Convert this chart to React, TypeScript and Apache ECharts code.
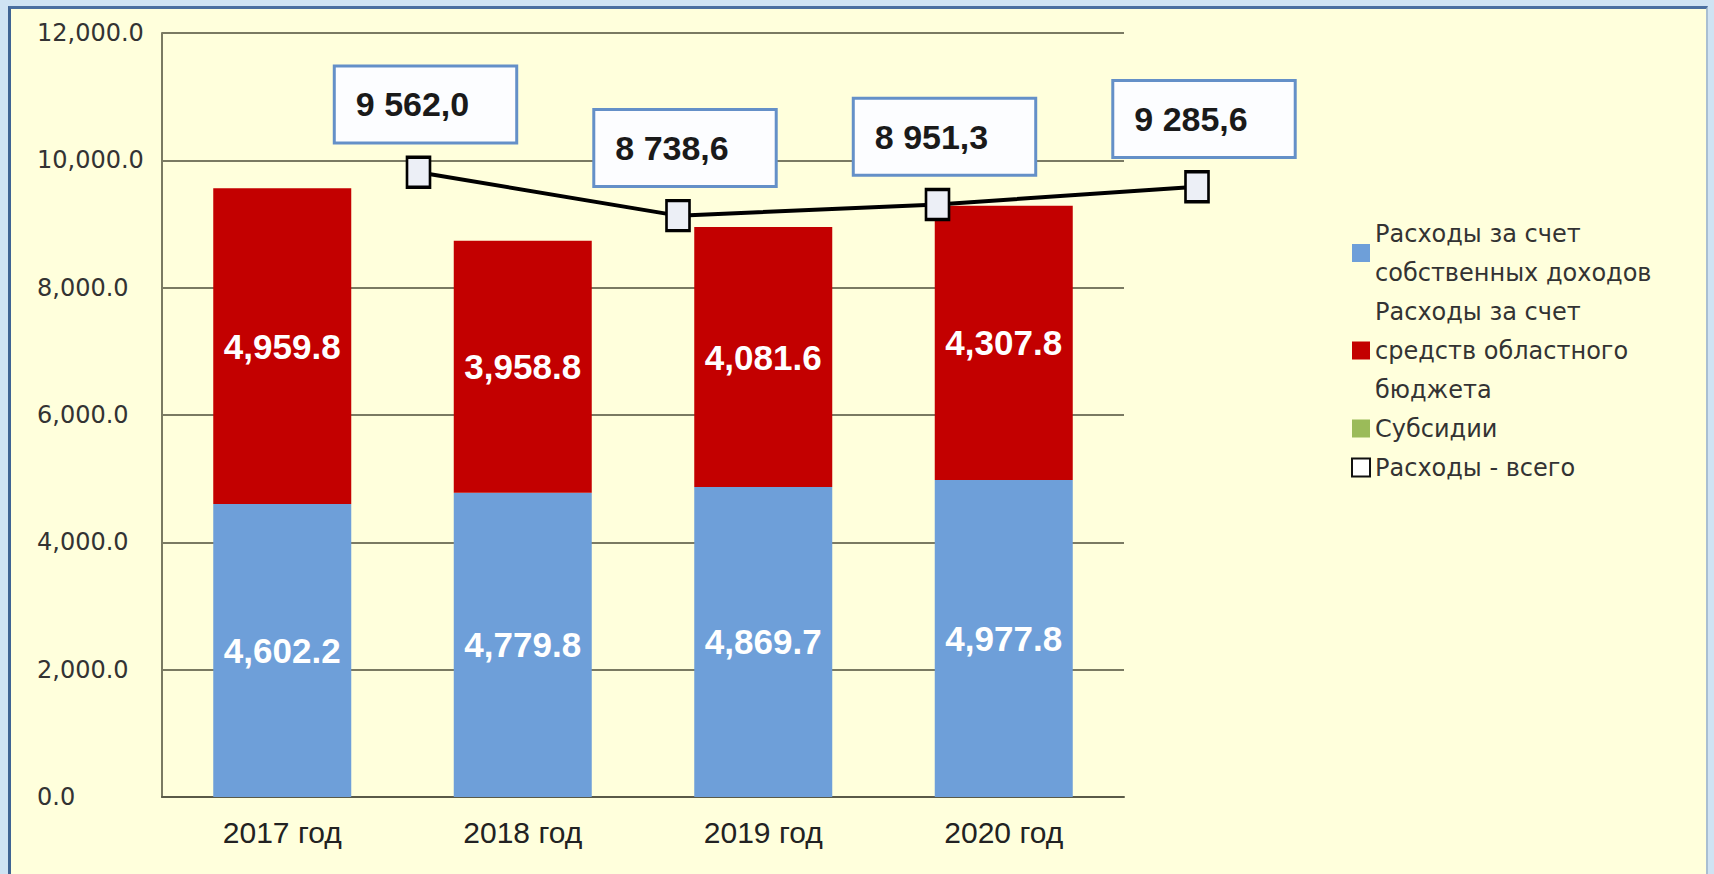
import React, { useEffect, useRef } from 'react';
import * as echarts from 'echarts';

const categories = ['2017 год', '2018 год', '2019 год', '2020 год'];
const ownIncome = [4602.2, 4779.8, 4869.7, 4977.8];
const regionalBudget = [4959.8, 3958.8, 4081.6, 4307.8];
const subsidies = [0, 0, 0, 0];
const totalExpenses = [9562.0, 8738.6, 8951.3, 9285.6];

const nameOwn = 'Расходы за счет\nсобственных доходов';
const nameRegional = 'Расходы за счет\nсредств областного\nбюджета';
const nameSubsidies = 'Субсидии';
const nameTotal = 'Расходы - всего';

const enFmt = (v: number) =>
  v.toLocaleString('en-US', { minimumFractionDigits: 1, maximumFractionDigits: 1 });

const ruFmt = (v: number) => {
  const [i, d] = v.toFixed(1).split('.');
  return i.replace(/\B(?=(\d{3})+(?!\d))/g, ' ') + ',' + d;
};

export default function App() {
  const ref = useRef<HTMLDivElement>(null);

  useEffect(() => {
    if (!ref.current) return;
    const chart = echarts.init(ref.current, undefined, { renderer: 'svg' });
    const barLabel = {
      show: true,
      position: 'inside',
      color: '#ffffff',
      fontFamily: 'Liberation Sans, Arial, sans-serif',
      fontWeight: 'bold',
      fontSize: 35,
      formatter: (p: any) => enFmt(p.value),
    };
    chart.setOption({
      animation: false,
      backgroundColor: 'transparent',
      grid: [
        { left: 162, right: 590, top: 33, bottom: 77 },
        { left: 418.5, right: 517, top: 43.6, bottom: 197.4 },
      ],
      legend: {
        orient: 'vertical',
        left: 1346,
        top: 209,
        itemGap: 0,
        itemWidth: 18,
        itemHeight: 18,
        icon: 'rect',
        selectedMode: false,
        textStyle: {
          fontFamily: 'DejaVu Sans, sans-serif',
          fontSize: 24,
          lineHeight: 39,
          color: '#333333',
        },
        data: [
          { name: nameOwn },
          { name: nameRegional },
          { name: nameSubsidies },
          {
            name: nameTotal,
            icon: 'rect',
            itemStyle: { color: '#ffffff', borderColor: '#111111', borderWidth: 2 },
          },
        ],
      },
      xAxis: [
        {
          type: 'category',
          gridIndex: 0,
          data: categories,
          axisLine: { show: true, lineStyle: { color: '#5a5a48', width: 2 } },
          axisTick: { show: false },
          axisLabel: {
            fontFamily: 'Liberation Sans, Arial, sans-serif',
            fontSize: 30,
            color: '#222222',
            margin: 20,
          },
        },
        {
          type: 'category',
          gridIndex: 1,
          data: categories,
          boundaryGap: false,
          show: false,
        },
      ],
      yAxis: [
        {
          type: 'value',
          gridIndex: 0,
          min: 0,
          max: 12000,
          interval: 2000,
          axisLine: { show: true, lineStyle: { color: '#7a7a62', width: 2 } },
          axisTick: { show: false },
          splitLine: { show: true, lineStyle: { color: '#7a7a62', width: 2 } },
          axisLabel: {
            align: 'left',
            margin: 125,
            fontFamily: 'DejaVu Sans, sans-serif',
            fontSize: 24,
            color: '#333333',
            formatter: (v: number) => enFmt(v),
          },
        },
        {
          type: 'value',
          gridIndex: 1,
          min: 0,
          max: 12000,
          show: false,
          splitLine: { show: false },
        },
      ],
      series: [
        {
          name: nameOwn,
          type: 'bar',
          stack: 'total',
          barWidth: 138,
          itemStyle: { color: '#6e9fd9' },
          label: barLabel,
          data: ownIncome,
        },
        {
          name: nameRegional,
          type: 'bar',
          stack: 'total',
          barWidth: 138,
          itemStyle: { color: '#c30000' },
          label: barLabel,
          data: regionalBudget,
        },
        {
          name: nameSubsidies,
          type: 'bar',
          stack: 'total',
          barWidth: 138,
          itemStyle: { color: '#9bbb59' },
          data: subsidies,
        },
        {
          name: nameTotal,
          type: 'line',
          xAxisIndex: 1,
          yAxisIndex: 1,
          z: 5,
          symbol: 'rect',
          symbolSize: [23, 30],
          itemStyle: { color: '#eceff6', borderColor: '#000000', borderWidth: 3 },
          lineStyle: { color: '#000000', width: 4 },
          label: {
            show: true,
            position: 'top',
            distance: 14,
            offset: [7, 0],
            formatter: (p: any) => ruFmt(p.value),
            backgroundColor: '#fcfdff',
            borderColor: '#6490c8',
            borderWidth: 3,
            padding: [20, 46, 20, 20],
            fontFamily: 'Liberation Sans, Arial, sans-serif',
            fontWeight: 'bold',
            fontSize: 34,
            lineHeight: 34,
            color: '#1a1a1a',
          },
          data: totalExpenses,
        },
      ],
    });
    return () => chart.dispose();
  }, []);

  return (
    <div
      style={{
        position: 'fixed',
        left: 0,
        top: 0,
        width: 1714,
        height: 874,
        background: '#cfe3f3',
        overflow: 'hidden',
      }}
    >
      <div
        style={{
          position: 'absolute',
          left: 8,
          top: 6,
          width: 1700,
          height: 900,
          background: '#ffffdc',
          borderLeft: '3px solid #3f6493',
          borderTop: '3px solid #4a6fa0',
          borderRight: '2px solid #a9bfd2',
          boxSizing: 'border-box',
        }}
      />
      <div
        ref={ref}
        style={{ position: 'absolute', left: 0, top: 0, width: 1714, height: 874 }}
      />
    </div>
  );
}
